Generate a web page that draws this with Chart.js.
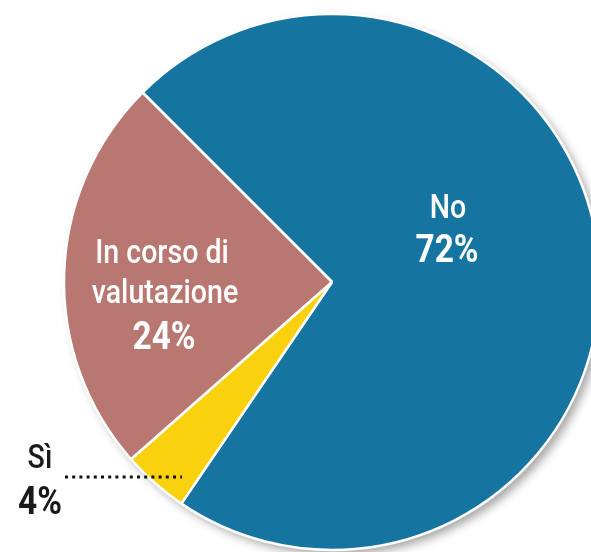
<!DOCTYPE html>
<html>
<head>
<meta charset="utf-8">
<title>Sondaggio</title>
<script src="https://cdn.jsdelivr.net/npm/chart.js"></script>
<style>
body{
  margin:0;
  background:#ffffff;
  overflow:hidden;
  width:591px;
  height:552px;
}
#wrap{
  position:absolute;
  left:0;
  top:0;
  width:664px;
  height:564px;
}
</style>
</head>
<body>

<div id="wrap"><canvas id="chart" width="664" height="564"></canvas></div>

<script>

// ================= DATA =================
const labels = ["No", "Sì", "In corso di valutazione"];
const values = [72, 4, 24];
const colors = ["#1575a0", "#f9d10f", "#b87770"];

// ================= PLUGINS =================
// soft shadow under the whole pie
const shadow = {
  id: "shadow",
  beforeDatasetsDraw(chart){
    const arc = chart.getDatasetMeta(0).data[0];
    if(!arc) return;
    const ctx = chart.ctx;
    ctx.save();
    ctx.shadowColor = "rgba(0,0,0,0.35)";
    ctx.shadowBlur = 10;
    ctx.shadowOffsetX = 5;
    ctx.shadowOffsetY = 5;
    ctx.fillStyle = "#ffffff";
    ctx.beginPath();
    ctx.arc(arc.x, arc.y, arc.outerRadius, 0, Math.PI*2);
    ctx.fill();
    ctx.restore();
  }
};

// condensed text: squeeze horizontally
function txt(ctx, s, x, y, font, color, sx){
  ctx.save();
  ctx.font = font;
  ctx.fillStyle = color;
  ctx.textAlign = "center";
  ctx.textBaseline = "alphabetic";
  ctx.translate(x, y);
  ctx.scale(sx, 1);
  ctx.fillText(s, 0, 0);
  ctx.restore();
}

// slice labels
const sliceLabels = {
  id: "sliceLabels",
  afterDraw(chart){
    const arc = chart.getDatasetMeta(0).data[0];
    const ctx = chart.ctx;
    const cx = arc.x, cy = arc.y;
    const reg = "500 34px Roboto";
    const bold = "bold 38px Roboto";

    txt(ctx, labels[0], cx+116, cy-64, reg, "#fff", 0.84);
    txt(ctx, values[0]+"%", cx+115, cy-20, bold, "#fff", 0.88);

    txt(ctx, "In corso di", cx-170, cy-19, reg, "#fff", 0.84);
    txt(ctx, "valutazione", cx-167, cy+21, reg, "#fff", 0.84);
    txt(ctx, values[2]+"%", cx-168, cy+67, bold, "#fff", 0.88);

    // Sì label outside the pie
    txt(ctx, labels[1], 40, cy+186, reg, "#1a1a1a", 0.84);
    txt(ctx, values[1]+"%", 40, cy+232, bold, "#1a1a1a", 0.88);

    ctx.save();
    ctx.strokeStyle = "#111111";
    ctx.lineWidth = 3;
    ctx.setLineDash([3, 4.2]);
    ctx.beginPath();
    ctx.moveTo(65, cy+195);
    ctx.lineTo(182, cy+195);
    ctx.stroke();
    ctx.restore();
  }
};

// ================= CHART =================
new Chart(document.getElementById("chart"), {
  type: "pie",
  data: {
    labels: labels,
    datasets: [{
      data: values,
      backgroundColor: colors,
      borderColor: "#ffffff",
      borderWidth: 2.5
    }]
  },
  options: {
    responsive: false,
    animation: false,
    rotation: -45,
    radius: 268,
    layout: { padding: 0 },
    plugins: {
      legend: { display: false },
      tooltip: { enabled: false }
    }
  },
  plugins: [shadow, sliceLabels]
});

</script>

</body>
</html>
